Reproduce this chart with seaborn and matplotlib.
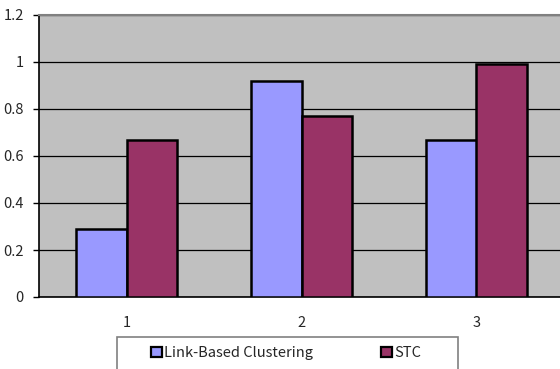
import matplotlib
matplotlib.use("Agg")
import matplotlib.pyplot as plt
from matplotlib.patches import Rectangle
import seaborn as sns
import pandas as pd

# Chart data
groups = ["1", "2", "3"]
link_based = [0.29, 0.92, 0.67]
stc = [0.67, 0.77, 0.99]
series_names = ["Link-Based Clustering", "STC"]
y_ticks = [0, 0.2, 0.4, 0.6, 0.8, 1, 1.2]
y_tick_labels = ["0", "0.2", "0.4", "0.6", "0.8", "1", "1.2"]

df = pd.DataFrame({
    "group": groups * 2,
    "value": link_based + stc,
    "series": [series_names[0]] * 3 + [series_names[1]] * 3,
})

sns.set_style("white")
plt.rcParams["font.family"] = ["Noto Sans CJK JP", "DejaVu Sans"]

W, H = 560, 369
FS = 10.5
fig = plt.figure(figsize=(W / 100, H / 100), dpi=100)
ax = fig.add_axes([39 / W, (H - 297) / H, 525 / W, 282 / H])
ax.set_facecolor("#C0C0C0")

sns.barplot(data=df, x="group", y="value", hue="series", ax=ax,
            palette=["#9999FF", "#993366"], width=0.575,
            edgecolor="black", linewidth=1.8, saturation=1,
            errorbar=None, legend=True, zorder=3)

ax.set_xlim(-0.5, 2.5)
ax.set_ylim(0, 1.2)
ax.set_yticks(y_ticks)
ax.set_yticklabels(y_tick_labels)
ax.set_xlabel("")
ax.set_ylabel("")
ax.yaxis.grid(True, color="black", linewidth=0.9, zorder=0)
ax.set_axisbelow(True)

ax.spines["right"].set_visible(False)
ax.spines["top"].set_color("#808080")
ax.spines["top"].set_linewidth(1.5)
ax.spines["left"].set_color("black")
ax.spines["left"].set_linewidth(1.2)
ax.spines["bottom"].set_color("black")
ax.spines["bottom"].set_linewidth(1.2)

ax.tick_params(axis="y", length=4, width=1, color="black", labelsize=FS,
               pad=7, direction="out", left=True)
ax.tick_params(axis="x", length=0, labelsize=FS, pad=14)

# Legend box
fig.patches.append(Rectangle((117 / W, -5 / H), 341 / W, (H - 337 + 5) / H,
                             transform=fig.transFigure, facecolor="white",
                             edgecolor="#808080", linewidth=1.2, zorder=1))

handles, labels = ax.get_legend_handles_labels()
ax.get_legend().remove()
leg = fig.legend(handles, labels, loc="upper left",
                 bbox_to_anchor=(151 / W, (H - 346) / H),
                 ncol=2, fontsize=FS, frameon=False,
                 handlelength=0.72, handleheight=0.72,
                 handletextpad=0.15, borderpad=0, borderaxespad=0,
                 columnspacing=4.7)
leg.set_zorder(2)
for h in leg.legend_handles:
    h.set_edgecolor("black")
    h.set_linewidth(1.6)

fig.savefig("out.png", dpi=100)
